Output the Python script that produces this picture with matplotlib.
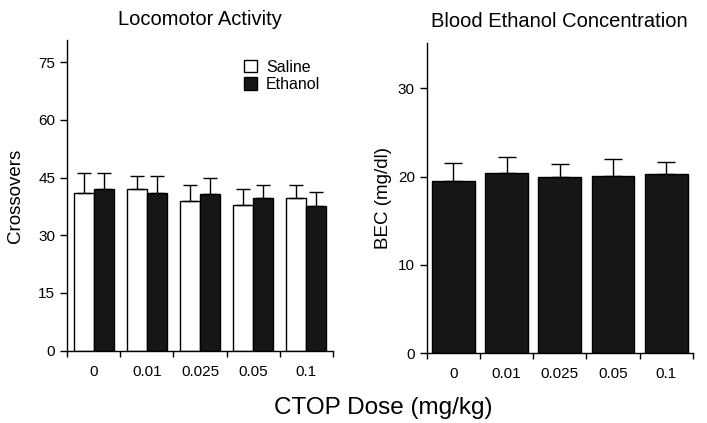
import matplotlib.pyplot as plt
import numpy as np
from matplotlib.patches import Patch

plt.rcParams["font.family"] = ["Liberation Sans", "DejaVu Sans"]

doses = ["0", "0.01", "0.025", "0.05", "0.1"]

saline_mean = [41.1, 42.1, 38.9, 37.9, 39.8]
saline_sem = [5.1, 3.4, 4.1, 4.0, 3.2]
ethanol_mean = [42.1, 41.0, 40.8, 39.8, 37.7]
ethanol_sem = [4.1, 4.3, 4.1, 3.2, 3.5]

bec_mean = [19.5, 20.45, 20.0, 20.05, 20.3]
bec_sem = [2.0, 1.75, 1.4, 1.9, 1.3]

fig = plt.figure(figsize=(7.07, 4.23), dpi=100)
fig.patch.set_facecolor("white")

ax1 = fig.add_axes([0.0948, 0.171, 0.3762, 0.734])
ax2 = fig.add_axes([0.6035, 0.165, 0.3765, 0.733])

x = np.arange(len(doses))
w = 0.377
err_kw = dict(capsize=5, capthick=1, elinewidth=1, ecolor="black")

ax1.bar(x - w / 2, saline_mean, w, color="white", edgecolor="black", linewidth=1,
        yerr=[np.zeros(len(x)), saline_sem], error_kw=err_kw, label="Saline")
ax1.bar(x + w / 2, ethanol_mean, w, color="#161616", edgecolor="black", linewidth=1,
        yerr=[np.zeros(len(x)), ethanol_sem], error_kw=err_kw, label="Ethanol")
ax1.set_ylim(0, 80.7)
ax1.set_yticks([0, 15, 30, 45, 60, 75])
ax1.set_ylabel("Crossovers", fontsize=13.5, labelpad=10)
ax1.set_title("Locomotor Activity", fontsize=14.5, pad=11)
ax1.legend(handles=[Patch(facecolor="white", edgecolor="black", label="Saline"),
                    Patch(facecolor="#161616", edgecolor="black", label="Ethanol")],
           loc="upper left", bbox_to_anchor=(0.64, 0.958), frameon=False, fontsize=11.5,
           handlelength=0.85, handleheight=0.85, handletextpad=0.55, labelspacing=0.15,
           borderaxespad=0)

w2 = 0.8
ax2.bar(x, bec_mean, w2, color="#161616", edgecolor="black", linewidth=1,
        yerr=[np.zeros(len(x)), bec_sem], error_kw=dict(capsize=6.5, capthick=1,
                                                        elinewidth=1, ecolor="black"))
ax2.set_ylim(0, 35.1)
ax2.set_yticks([0, 10, 20, 30])
ax2.set_ylabel("BEC (mg/dl)", fontsize=13.5, labelpad=4)
ax2.set_title("Blood Ethanol Concentration", fontsize=14.5, pad=11.5)

for ax in (ax1, ax2):
    ax.set_xlim(-0.5, len(doses) - 0.5)
    ax.set_xticks(x)
    ax.set_xticklabels(doses, fontsize=11)
    ax.set_xticks(np.arange(len(doses) + 1) - 0.5, minor=True)
    ax.tick_params(axis="x", which="major", length=0, pad=10)
    ax.tick_params(axis="x", which="minor", length=4, width=1, direction="out")
    ax.tick_params(axis="y", length=5, width=1, labelsize=11, direction="out")
    for s in ("top", "right"):
        ax.spines[s].set_visible(False)
    for s in ("left", "bottom"):
        ax.spines[s].set_linewidth(1)

fig.text(0.542, 0.035, "CTOP Dose (mg/kg)", fontsize=17.5, ha="center", va="center")

fig.savefig("out.png", dpi=100, facecolor="white")
